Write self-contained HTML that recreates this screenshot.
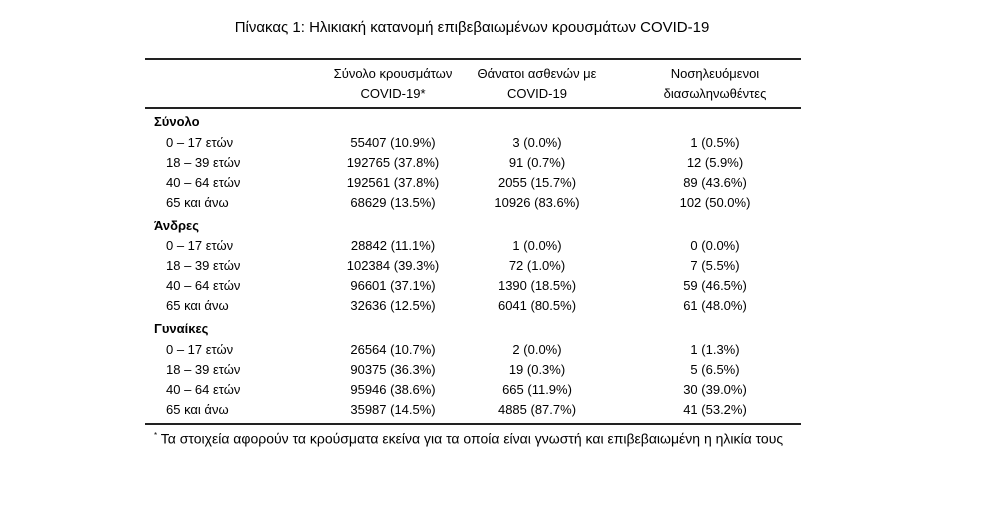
<!DOCTYPE html>
<html><head><meta charset="utf-8"><style>
body{margin:0;width:996px;height:520px;background:#fff;position:relative;font-family:"Liberation Sans","DejaVu Sans",sans-serif;color:#000;font-size:13px}
.t{position:absolute;white-space:nowrap;line-height:16px}
.c{transform:translateX(-50%)}
.b{font-weight:bold}
.hl{position:absolute;left:145px;width:656px;background:#222}
</style></head><body>
<div class="t c" style="left:472px;top:20px;font-size:15px">Πίνακας 1: Ηλικιακή κατανομή επιβεβαιωμένων κρουσμάτων COVID-19</div>
<div class="hl" style="top:58px;height:1.5px"></div>
<div class="hl" style="top:107px;height:1.5px"></div>
<div class="hl" style="top:423px;height:1.5px"></div>
<div class="t c" style="left:393px;top:66px">Σύνολο κρουσμάτων</div>
<div class="t c" style="left:393px;top:86px">COVID-19*</div>
<div class="t c" style="left:537px;top:66px">Θάνατοι ασθενών με</div>
<div class="t c" style="left:537px;top:86px">COVID-19</div>
<div class="t c" style="left:715px;top:66px">Νοσηλευόμενοι</div>
<div class="t c" style="left:715px;top:86px">διασωληνωθέντες</div>

<div class="t b" style="left:154px;top:114px">Σύνολο</div>
<div class="t" style="left:166px;top:135px">0 – 17 ετών</div>
<div class="t" style="left:166px;top:155px">18 – 39 ετών</div>
<div class="t" style="left:166px;top:175px">40 – 64 ετών</div>
<div class="t" style="left:166px;top:195px">65 και άνω</div>
<div class="t c" style="left:393px;top:135px">55407 (10.9%)</div>
<div class="t c" style="left:393px;top:155px">192765 (37.8%)</div>
<div class="t c" style="left:393px;top:175px">192561 (37.8%)</div>
<div class="t c" style="left:393px;top:195px">68629 (13.5%)</div>
<div class="t c" style="left:537px;top:135px">3 (0.0%)</div>
<div class="t c" style="left:537px;top:155px">91 (0.7%)</div>
<div class="t c" style="left:537px;top:175px">2055 (15.7%)</div>
<div class="t c" style="left:537px;top:195px">10926 (83.6%)</div>
<div class="t c" style="left:715px;top:135px">1 (0.5%)</div>
<div class="t c" style="left:715px;top:155px">12 (5.9%)</div>
<div class="t c" style="left:715px;top:175px">89 (43.6%)</div>
<div class="t c" style="left:715px;top:195px">102 (50.0%)</div>

<div class="t b" style="left:154px;top:218px">Άνδρες</div>
<div class="t" style="left:166px;top:238px">0 – 17 ετών</div>
<div class="t" style="left:166px;top:258px">18 – 39 ετών</div>
<div class="t" style="left:166px;top:278px">40 – 64 ετών</div>
<div class="t" style="left:166px;top:298px">65 και άνω</div>
<div class="t c" style="left:393px;top:238px">28842 (11.1%)</div>
<div class="t c" style="left:393px;top:258px">102384 (39.3%)</div>
<div class="t c" style="left:393px;top:278px">96601 (37.1%)</div>
<div class="t c" style="left:393px;top:298px">32636 (12.5%)</div>
<div class="t c" style="left:537px;top:238px">1 (0.0%)</div>
<div class="t c" style="left:537px;top:258px">72 (1.0%)</div>
<div class="t c" style="left:537px;top:278px">1390 (18.5%)</div>
<div class="t c" style="left:537px;top:298px">6041 (80.5%)</div>
<div class="t c" style="left:715px;top:238px">0 (0.0%)</div>
<div class="t c" style="left:715px;top:258px">7 (5.5%)</div>
<div class="t c" style="left:715px;top:278px">59 (46.5%)</div>
<div class="t c" style="left:715px;top:298px">61 (48.0%)</div>

<div class="t b" style="left:154px;top:321px">Γυναίκες</div>
<div class="t" style="left:166px;top:342px">0 – 17 ετών</div>
<div class="t" style="left:166px;top:362px">18 – 39 ετών</div>
<div class="t" style="left:166px;top:382px">40 – 64 ετών</div>
<div class="t" style="left:166px;top:402px">65 και άνω</div>
<div class="t c" style="left:393px;top:342px">26564 (10.7%)</div>
<div class="t c" style="left:393px;top:362px">90375 (36.3%)</div>
<div class="t c" style="left:393px;top:382px">95946 (38.6%)</div>
<div class="t c" style="left:393px;top:402px">35987 (14.5%)</div>
<div class="t c" style="left:537px;top:342px">2 (0.0%)</div>
<div class="t c" style="left:537px;top:362px">19 (0.3%)</div>
<div class="t c" style="left:537px;top:382px">665 (11.9%)</div>
<div class="t c" style="left:537px;top:402px">4885 (87.7%)</div>
<div class="t c" style="left:715px;top:342px">1 (1.3%)</div>
<div class="t c" style="left:715px;top:362px">5 (6.5%)</div>
<div class="t c" style="left:715px;top:382px">30 (39.0%)</div>
<div class="t c" style="left:715px;top:402px">41 (53.2%)</div>

<div class="t" style="left:154px;top:428px;font-size:14px"><sup style="font-size:8px">*</sup> Τα στοιχεία αφορούν τα κρούσματα εκείνα για τα οποία είναι γνωστή και επιβεβαιωμένη η ηλικία τους</div>
</body></html>
